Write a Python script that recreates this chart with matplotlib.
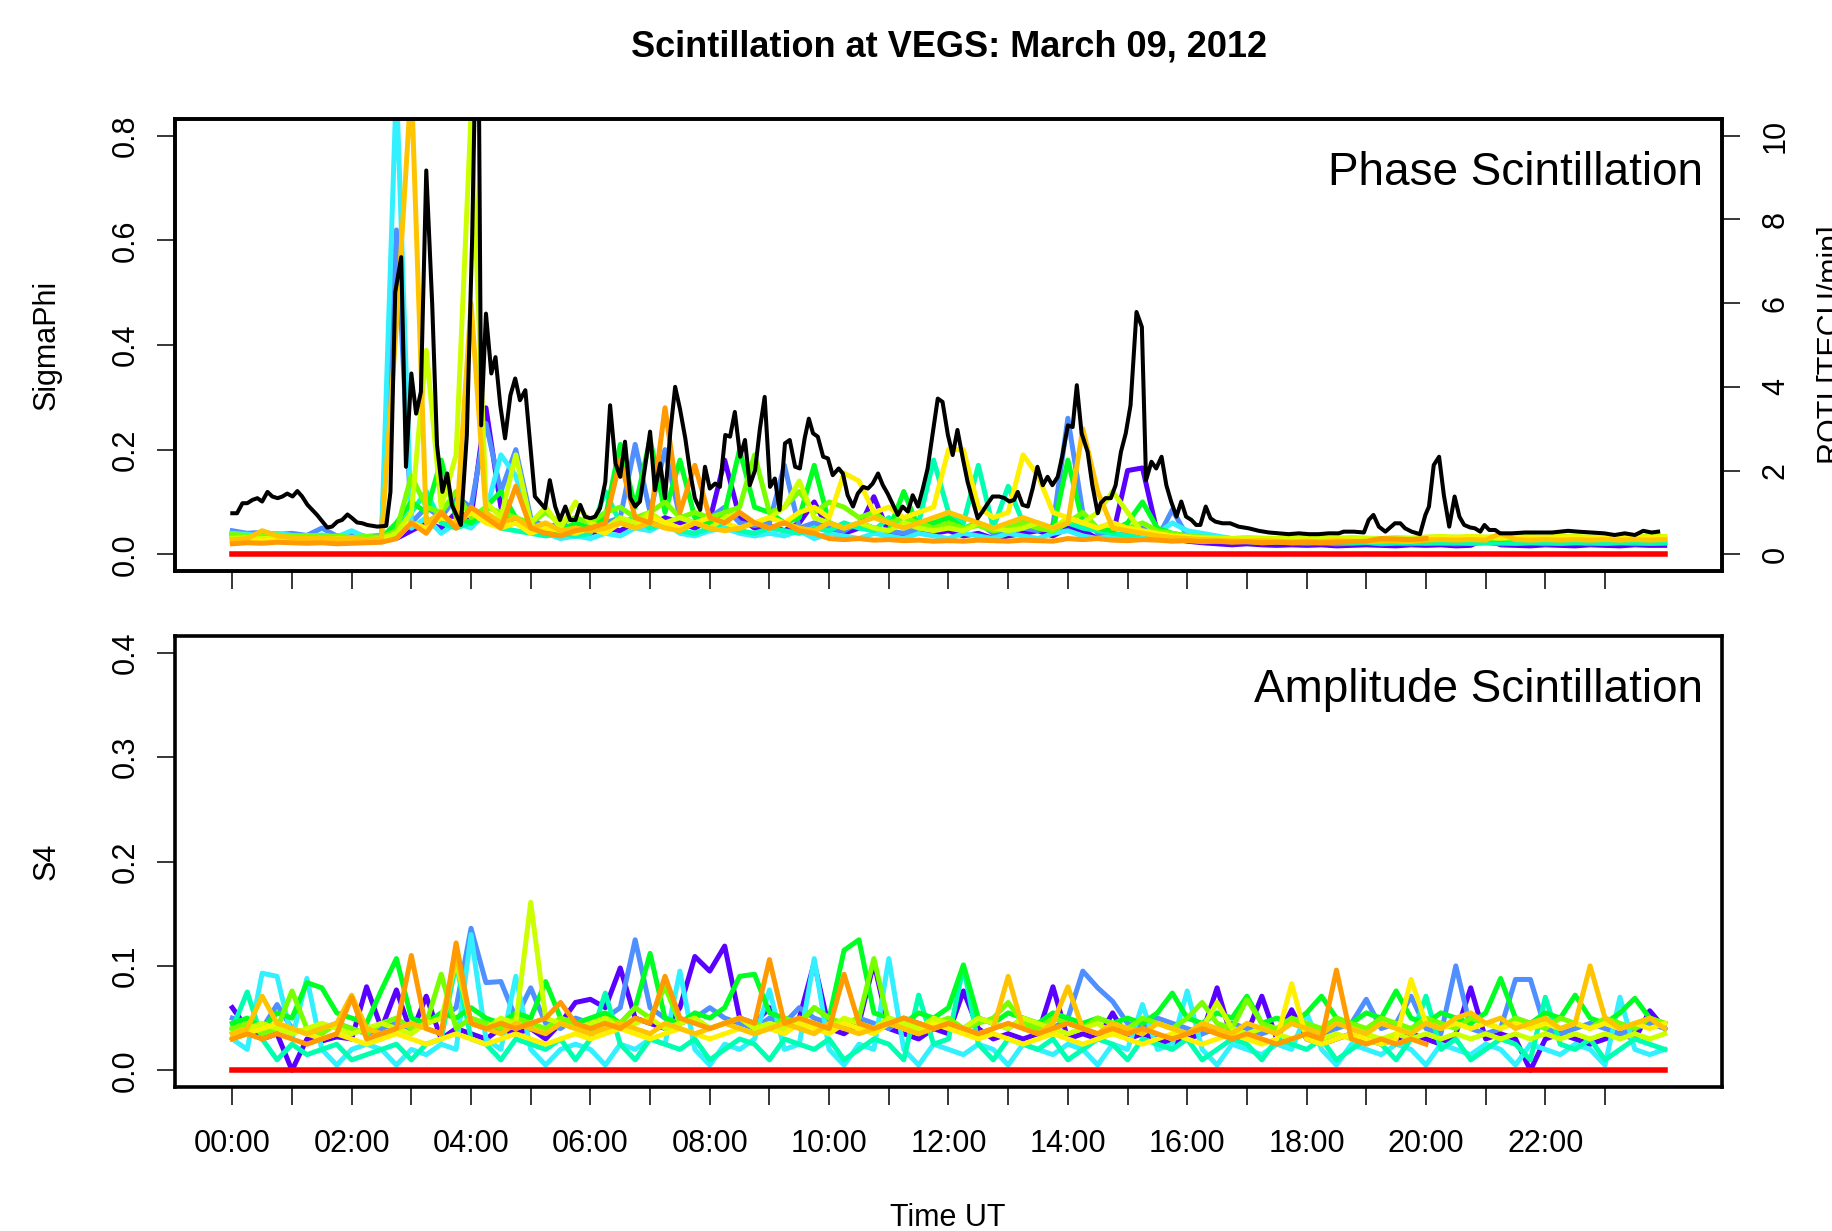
import numpy as np
import matplotlib
matplotlib.use("Agg")
import matplotlib.pyplot as plt

plt.rcParams["font.family"] = ["Liberation Sans", "DejaVu Sans"]

# 15-minute samples over the day (hours UT)
hours = np.linspace(0, 24, 97)
nan = np.nan

sat_colors = ["#5A00FF", "#4F8FFF", "#33F0FF", "#00FFB0", "#00FF22",
              "#77FF00", "#CCFF00", "#FFF000", "#FFC400", "#FF9A00"]

# ---- SigmaPhi per satellite ----
phi_purple = [0.040, 0.035, 0.038, 0.033, 0.036, 0.032, 0.034, 0.030, 0.033, 0.031, 0.034, 0.030,
              0.045, 0.060, 0.050, 0.080, 0.070, 0.280, 0.090, 0.060, 0.050, 0.040, 0.045, 0.035,
              0.040, 0.050, 0.045, 0.060, 0.055, 0.070, 0.060, 0.050, 0.065, 0.180, 0.070, 0.050,
              0.055, 0.045, 0.060, 0.100, 0.045, 0.040, 0.050, 0.110, 0.040, 0.035, 0.045, 0.040,
              0.045, 0.035, 0.040, 0.030, 0.035, 0.040, 0.045, 0.035, 0.050, 0.045, 0.030, 0.035,
              0.160, 0.165, 0.040, 0.030, 0.025, 0.022, 0.020, 0.018, 0.020, 0.018, 0.017, 0.018,
              0.017, 0.018, 0.016, 0.017, 0.018, 0.017, 0.016, 0.018, 0.017, 0.018, 0.016, 0.017,
              0.030, 0.018, 0.017, 0.016, 0.018, 0.017, 0.016, 0.018, 0.017, 0.016, 0.018, 0.017,
              0.017]
phi_blue = [0.045, 0.040, 0.042, 0.038, 0.040, 0.036, 0.050, 0.035, 0.038, 0.034, 0.036, 0.620,
            0.060, 0.090, 0.070, 0.110, 0.090, 0.250, 0.120, 0.200, 0.070, 0.050, 0.060, 0.045,
            0.050, 0.060, 0.070, 0.210, 0.080, 0.200, 0.070, 0.060, 0.070, 0.090, 0.060, 0.055,
            0.060, 0.170, 0.050, 0.060, 0.050, 0.045, 0.060, 0.050, 0.045, 0.040, 0.050, 0.060,
            0.050, 0.045, 0.060, 0.040, 0.045, 0.050, 0.045, 0.055, 0.260, 0.080, 0.040, 0.035,
            0.040, 0.050, 0.030, 0.085, 0.035, 0.030, 0.028, 0.025, 0.024, 0.022, 0.023, 0.022,
            0.021, 0.022, 0.020, 0.021, 0.022, 0.020, 0.021, 0.020, 0.022, 0.021, 0.020, 0.021,
            0.022, 0.020, 0.021, 0.022, 0.020, 0.021, 0.022, 0.020, 0.021, 0.022, 0.020, 0.021,
            0.021]
phi_cyan = [0.040, 0.038, 0.035, 0.040, 0.036, 0.034, 0.037, 0.033, 0.045, 0.032, 0.030, 0.900,
            0.050, 0.070, 0.040, 0.060, 0.050, 0.080, 0.190, 0.150, 0.050, 0.040, 0.030, 0.035,
            0.030, 0.040, 0.035, 0.050, 0.045, 0.060, 0.040, 0.035, 0.045, 0.050, 0.040, 0.035,
            0.040, 0.035, 0.045, 0.030, 0.040, 0.035, 0.030, 0.040, 0.035, 0.030, 0.040, 0.035,
            0.030, 0.040, 0.035, 0.030, 0.040, 0.035, 0.030, 0.040, 0.045, 0.035, 0.030, 0.035,
            0.030, 0.035, 0.040, 0.060, 0.045, 0.040, 0.035, 0.030, 0.028, 0.030, 0.027, 0.025,
            0.026, 0.025, 0.024, 0.026, 0.025, 0.024, 0.025, 0.026, 0.024, 0.025, 0.023, 0.024,
            0.025, 0.023, 0.024, 0.025, 0.024, 0.023, 0.024, 0.025, 0.023, 0.024, 0.025, 0.024,
            0.024]
phi_aqua = [0.030, 0.032, 0.028, 0.030, 0.027, 0.029, 0.026, 0.028, 0.025, 0.027, 0.026, 0.050,
            0.080, 0.120, 0.060, 0.050, 0.060, 0.070, 0.050, 0.045, 0.040, 0.035, 0.040, 0.035,
            0.040, 0.120, 0.060, 0.070, 0.050, 0.060, 0.045, 0.040, 0.050, 0.060, 0.045, 0.040,
            0.050, 0.045, 0.040, 0.050, 0.045, 0.060, 0.050, 0.045, 0.070, 0.050, 0.060, 0.180,
            0.080, 0.060, 0.170, 0.050, 0.130, 0.060, 0.050, 0.045, 0.060, 0.050, 0.045, 0.040,
            0.035, 0.040, 0.030, 0.035, 0.028, 0.026, 0.025, 0.024, 0.025, 0.023, 0.024, 0.022,
            0.023, 0.022, 0.024, 0.022, 0.023, 0.021, 0.022, 0.023, 0.021, 0.022, 0.023, 0.021,
            0.022, 0.023, 0.021, 0.022, 0.023, 0.021, 0.022, 0.023, 0.021, 0.022, 0.023, 0.021,
            0.022]
phi_green = [0.035, 0.033, 0.036, 0.032, 0.034, 0.031, 0.033, 0.030, 0.032, 0.030, 0.031, 0.060,
             0.100, 0.080, 0.180, 0.070, 0.060, 0.090, 0.120, 0.070, 0.050, 0.040, 0.045, 0.060,
             0.050, 0.070, 0.210, 0.090, 0.220, 0.080, 0.180, 0.070, 0.060, 0.080, 0.200, 0.090,
             0.080, 0.060, 0.070, 0.170, 0.060, 0.050, 0.060, 0.050, 0.045, 0.120, 0.050, 0.060,
             0.070, 0.050, 0.060, 0.045, 0.050, 0.060, 0.050, 0.045, 0.180, 0.060, 0.050, 0.045,
             0.060, 0.100, 0.050, 0.040, 0.035, 0.030, 0.028, 0.030, 0.028, 0.027, 0.029, 0.027,
             0.028, 0.027, 0.029, 0.028, 0.027, 0.029, 0.030, 0.028, 0.027, 0.029, 0.028, 0.030,
             0.029, 0.028, 0.030, 0.029, 0.028, 0.031, 0.029, 0.028, 0.030, 0.029, 0.028, 0.030,
             0.029]
phi_chart = [0.038, 0.036, 0.035, 0.037, 0.034, 0.036, 0.033, 0.035, 0.032, 0.034, 0.033, 0.045,
             0.150, 0.090, 0.080, 0.120, 0.070, 0.090, 0.080, 0.070, 0.060, 0.080, 0.060, 0.070,
             0.060, 0.080, 0.090, 0.070, 0.080, 0.100, 0.070, 0.080, 0.070, 0.080, 0.090, 0.190,
             0.080, 0.090, 0.120, 0.080, 0.100, 0.090, 0.070, 0.080, 0.060, 0.070, 0.060, 0.050,
             0.060, 0.050, 0.055, 0.045, 0.050, 0.060, 0.050, 0.045, 0.060, 0.080, 0.050, 0.060,
             0.050, 0.060, 0.045, 0.040, 0.035, 0.033, 0.032, 0.030, 0.031, 0.030, 0.029, 0.030,
             0.030, 0.029, 0.031, 0.030, 0.029, 0.030, 0.031, 0.029, 0.030, 0.031, 0.029, 0.030,
             0.032, 0.030, 0.031, 0.030, 0.032, 0.031, 0.030, 0.032, 0.031, 0.030, 0.031, 0.032,
             0.031]
phi_ygreen = [0.030, 0.032, 0.030, 0.031, 0.029, 0.030, 0.028, 0.030, 0.029, 0.028, 0.030, 0.040,
              0.080, 0.390, 0.090, 0.190, 0.840, 0.100, 0.070, 0.190, 0.060, 0.090, 0.050, 0.100,
              0.060, 0.050, 0.070, 0.060, 0.080, 0.060, 0.070, 0.060, 0.050, 0.070, 0.080, 0.060,
              0.070, 0.090, 0.140, 0.070, 0.060, 0.050, 0.060, 0.050, 0.045, 0.060, 0.050, 0.045,
              0.050, 0.045, 0.060, 0.050, 0.045, 0.050, 0.060, 0.050, 0.070, 0.060, 0.080, 0.120,
              0.080, 0.040, 0.038, 0.035, 0.033, 0.032, 0.031, 0.030, 0.032, 0.031, 0.030, 0.031,
              0.032, 0.031, 0.030, 0.032, 0.031, 0.030, 0.032, 0.031, 0.033, 0.034, 0.033, 0.034,
              0.033, 0.034, 0.035, 0.034, 0.033, 0.035, 0.034, 0.033, 0.035, 0.034, 0.033, 0.035,
              0.034]
phi_yellow = [0.025, 0.027, 0.026, 0.028, 0.025, 0.027, 0.026, 0.025, 0.027, 0.026, 0.025, 0.030,
              0.060, 0.050, 0.070, 0.060, 0.080, 0.060, 0.050, 0.060, 0.040, 0.050, 0.045, 0.040,
              0.050, 0.040, 0.060, 0.050, 0.070, 0.060, 0.050, 0.060, 0.070, 0.060, 0.050, 0.060,
              0.070, 0.060, 0.080, 0.090, 0.070, 0.155, 0.140, 0.080, 0.090, 0.070, 0.080, 0.090,
              0.200, 0.200, 0.090, 0.070, 0.080, 0.190, 0.150, 0.080, 0.070, 0.060, 0.050, 0.060,
              0.050, 0.045, 0.040, 0.035, 0.033, 0.030, 0.028, 0.027, 0.026, 0.027, 0.026, 0.025,
              0.026, 0.025, 0.027, 0.026, 0.025, 0.027, 0.026, 0.025, 0.030, 0.032, 0.031, 0.033,
              0.032, 0.031, 0.033, 0.032, 0.031, 0.033, 0.032, 0.031, 0.033, 0.032, 0.031, 0.032,
              0.032]
phi_gold = [0.028, 0.030, 0.045, 0.035, 0.032, 0.030, 0.031, 0.029, 0.030, 0.028, 0.029, 0.440,
            0.900, 0.060, 0.080, 0.050, 0.480, 0.080, 0.060, 0.070, 0.050, 0.060, 0.045, 0.050,
            0.045, 0.050, 0.060, 0.050, 0.060, 0.050, 0.045, 0.060, 0.050, 0.045, 0.050, 0.060,
            0.050, 0.060, 0.050, 0.045, 0.060, 0.050, 0.060, 0.070, 0.060, 0.050, 0.060, 0.070,
            0.080, 0.070, 0.060, 0.050, 0.060, 0.070, 0.060, 0.050, 0.060, 0.240, 0.120, 0.050,
            0.045, 0.040, 0.035, 0.032, 0.030, 0.028, 0.027, 0.026, 0.025, 0.026, 0.025, 0.024,
            0.025, 0.024, 0.026, 0.025, 0.024, 0.025, 0.026, 0.025, 0.027, 0.028, 0.027, 0.028,
            0.027, 0.040, 0.028, 0.027, 0.028, 0.027, 0.028, 0.027, 0.028, 0.027, 0.028, 0.027,
            0.028]
phi_orange = [0.020, 0.022, 0.021, 0.023, 0.022, 0.021, 0.022, 0.020, 0.021, 0.022, 0.023, 0.030,
              0.060, 0.040, 0.080, 0.050, 0.090, 0.070, 0.050, 0.130, 0.050, 0.040, 0.035, 0.045,
              0.050, 0.060, 0.180, 0.070, 0.060, 0.280, 0.080, 0.170, 0.070, 0.060, 0.080, 0.060,
              0.050, 0.060, 0.045, 0.040, 0.030, 0.028, 0.030, 0.027, 0.028, 0.026, 0.027, 0.025,
              0.026, 0.025, 0.027, 0.026, 0.025, 0.027, 0.026, 0.025, 0.030, 0.028, 0.030, 0.027,
              0.026, 0.028, 0.027, 0.025, 0.026, 0.024, 0.025, 0.023, 0.024, 0.022, 0.023, 0.022,
              0.023, 0.022, 0.023, 0.024, 0.025, 0.030, 0.029, 0.028, 0.030, nan, nan, nan,
              nan, nan, nan, nan, nan, nan, nan, nan, nan, nan, nan, nan,
              nan]
phi_red = [0.0] * 97

# ---- ROTI (black line, right axis) ----
roti_t = [0.00, 0.08, 0.17, 0.25, 0.34, 0.42, 0.50, 0.59, 0.67, 0.76, 0.84, 0.92, 1.01, 1.09, 1.17,
          1.26, 1.42, 1.59, 1.67, 1.76, 1.84, 1.93, 2.01, 2.09, 2.18, 2.26, 2.43, 2.58, 2.65, 2.73,
          2.83, 2.91, 3.00, 3.08, 3.16, 3.25, 3.35, 3.43, 3.52, 3.60, 3.68, 3.83, 3.93, 4.02, 4.07,
          4.13, 4.17, 4.25, 4.34, 4.41, 4.49, 4.57, 4.66, 4.74, 4.82, 4.91, 5.07, 5.24, 5.32, 5.41,
          5.49, 5.58, 5.66, 5.75, 5.83, 5.91, 6.00, 6.08, 6.16, 6.25, 6.33, 6.42, 6.50, 6.58, 6.67,
          6.75, 6.83, 6.92, 7.00, 7.08, 7.17, 7.25, 7.34, 7.42, 7.50, 7.59, 7.67, 7.75, 7.84, 7.92,
          8.00, 8.09, 8.17, 8.26, 8.34, 8.42, 8.51, 8.59, 8.67, 8.76, 8.84, 8.92, 9.01, 9.09, 9.17,
          9.26, 9.34, 9.43, 9.51, 9.59, 9.66, 9.73, 9.81, 9.90, 9.98, 10.06, 10.16, 10.23, 10.31,
          10.40, 10.48, 10.57, 10.65, 10.73, 10.82, 10.90, 10.98, 11.07, 11.15, 11.23, 11.32, 11.40,
          11.49, 11.57, 11.65, 11.74, 11.82, 11.90, 11.99, 12.07, 12.15, 12.24, 12.32, 12.41, 12.49,
          12.57, 12.66, 12.74, 12.85, 12.94, 13.02, 13.10, 13.16, 13.24, 13.33, 13.41, 13.49, 13.58,
          13.66, 13.74, 13.83, 13.91, 14.00, 14.08, 14.15, 14.23, 14.33, 14.41, 14.50, 14.55, 14.63,
          14.72, 14.80, 14.89, 14.97, 15.05, 15.15, 15.24, 15.31, 15.40, 15.48, 15.57, 15.65, 15.73,
          15.82, 15.90, 15.98, 16.07, 16.15, 16.22, 16.31, 16.39, 16.47, 16.59, 16.72, 16.86, 17.03,
          17.20, 17.37, 17.53, 17.70, 17.87, 18.04, 18.20, 18.37, 18.54, 18.62, 18.79, 18.96, 19.04,
          19.12, 19.21, 19.32, 19.48, 19.57, 19.65, 19.76, 19.90, 19.99, 20.05, 20.13, 20.22, 20.30,
          20.39, 20.48, 20.56, 20.64, 20.74, 20.82, 20.91, 20.98, 21.06, 21.16, 21.24, 21.44, 21.66,
          21.88, 22.11, 22.24, 22.38, 22.55, 22.77, 22.99, 23.16, 23.33, 23.50, 23.64, 23.78, 23.89]
roti_v = [0.98, 0.98, 1.22, 1.22, 1.30, 1.34, 1.26, 1.49, 1.38, 1.34, 1.38, 1.45, 1.38, 1.51, 1.38,
          1.18, 0.94, 0.64, 0.66, 0.78, 0.82, 0.95, 0.86, 0.76, 0.74, 0.70, 0.66, 0.68, 1.49, 6.26,
          7.10, 2.09, 4.32, 3.36, 3.88, 9.17, 5.95, 2.61, 1.49, 1.93, 1.18, 0.70, 2.85, 7.62, 11.5,
          11.5, 3.08, 5.75, 4.32, 4.71, 3.56, 2.77, 3.80, 4.20, 3.68, 3.92, 1.38, 1.10, 1.77, 1.14,
          0.82, 1.14, 0.82, 0.82, 1.18, 0.90, 0.86, 0.90, 1.10, 1.73, 3.56, 2.17, 1.85, 2.69, 1.34,
          1.14, 1.26, 2.13, 2.93, 1.53, 2.17, 1.34, 2.93, 4.00, 3.48, 2.77, 1.97, 1.34, 1.06, 2.09,
          1.57, 1.69, 1.61, 2.85, 2.81, 3.40, 2.33, 2.73, 1.65, 2.01, 3.00, 3.76, 1.61, 1.81, 1.06,
          2.65, 2.73, 2.09, 2.05, 2.77, 3.24, 2.89, 2.81, 2.33, 2.29, 1.89, 2.05, 1.93, 1.41,
          1.14, 1.45, 1.61, 1.57, 1.69, 1.93, 1.65, 1.45, 1.18, 0.94, 1.14, 1.02, 1.41,
          1.14, 1.57, 2.05, 2.93, 3.72, 3.64, 2.85, 2.37, 2.97, 2.29, 1.73, 1.26, 0.86,
          1.02, 1.22, 1.38, 1.38, 1.34, 1.26, 1.30, 1.49, 1.18, 1.14, 1.57, 2.09, 1.65,
          1.85, 1.65, 1.85, 2.37, 3.08, 3.04, 4.04, 2.89, 2.45, 1.65, 0.98, 1.22, 1.34,
          1.34, 1.65, 2.45, 2.89, 3.56, 5.79, 5.43, 1.77, 2.21, 2.05, 2.33, 1.65, 1.26,
          0.90, 1.26, 0.90, 0.82, 0.70, 0.70, 1.14, 0.86, 0.78, 0.74, 0.74, 0.66, 0.62,
          0.56, 0.52, 0.50, 0.48, 0.50, 0.48, 0.48, 0.50, 0.50, 0.54, 0.54, 0.52, 0.82,
          0.94, 0.66, 0.54, 0.74, 0.74, 0.62, 0.54, 0.48, 0.94, 1.14, 2.13, 2.33, 1.41,
          0.66, 1.38, 0.90, 0.70, 0.64, 0.62, 0.54, 0.70, 0.58, 0.58, 0.50, 0.50, 0.52,
          0.52, 0.52, 0.54, 0.56, 0.54, 0.52, 0.50, 0.46, 0.50, 0.46, 0.56, 0.52, 0.54]

# ---- S4 per satellite ----
s4_purple = [0.060, 0.040, 0.030, 0.035, 0.000, 0.030, 0.028, 0.032, 0.030, 0.080, 0.040, 0.077,
             0.035, 0.071, 0.030, 0.040, 0.035, 0.030, 0.040, 0.035, 0.040, 0.030, 0.045, 0.065,
             0.068, 0.060, 0.098, 0.050, 0.045, 0.040, 0.060, 0.109, 0.095, 0.119, 0.050, 0.045,
             0.060, 0.040, 0.050, 0.103, 0.040, 0.035, 0.045, 0.103, 0.040, 0.035, 0.030, 0.040,
             0.035, 0.076, 0.040, 0.030, 0.035, 0.030, 0.035, 0.080, 0.030, 0.035, 0.030, 0.055,
             0.030, 0.035, 0.030, 0.025, 0.030, 0.035, 0.079, 0.030, 0.035, 0.071, 0.030, 0.058,
             0.030, 0.025, 0.030, 0.035, 0.030, 0.025, 0.030, 0.035, 0.030, 0.025, 0.035, 0.079,
             0.030, 0.035, 0.030, 0.000, 0.030, 0.035, 0.030, 0.025, 0.030, 0.035, 0.030, 0.057,
             0.040]
s4_blue = [0.050, 0.045, 0.040, 0.063, 0.040, 0.035, 0.040, 0.045, 0.040, 0.035, 0.040, 0.045,
           0.040, 0.045, 0.050, 0.060, 0.136, 0.084, 0.085, 0.050, 0.079, 0.045, 0.040, 0.050,
           0.045, 0.050, 0.060, 0.125, 0.060, 0.050, 0.045, 0.050, 0.060, 0.050, 0.045, 0.040,
           0.050, 0.045, 0.060, 0.050, 0.045, 0.040, 0.050, 0.045, 0.040, 0.050, 0.045, 0.040,
           0.045, 0.040, 0.050, 0.045, 0.040, 0.050, 0.045, 0.040, 0.050, 0.095, 0.079, 0.066,
           0.045, 0.040, 0.050, 0.045, 0.040, 0.035, 0.040, 0.045, 0.040, 0.035, 0.040, 0.045,
           0.040, 0.035, 0.040, 0.045, 0.068, 0.040, 0.045, 0.071, 0.040, 0.035, 0.100, 0.040,
           0.035, 0.040, 0.087, 0.087, 0.040, 0.035, 0.040, 0.045, 0.040, 0.035, 0.040, 0.045,
           0.040]
s4_cyan = [0.030, 0.020, 0.093, 0.090, 0.030, 0.088, 0.020, 0.005, 0.020, 0.025, 0.020, 0.005,
           0.020, 0.015, 0.025, 0.020, 0.130, 0.030, 0.020, 0.090, 0.020, 0.005, 0.020, 0.025,
           0.020, 0.005, 0.025, 0.020, 0.030, 0.025, 0.095, 0.020, 0.005, 0.025, 0.020, 0.030,
           0.077, 0.020, 0.025, 0.107, 0.020, 0.005, 0.025, 0.020, 0.107, 0.020, 0.005, 0.025,
           0.020, 0.015, 0.025, 0.020, 0.005, 0.025, 0.020, 0.015, 0.025, 0.020, 0.005, 0.025,
           0.020, 0.063, 0.020, 0.025, 0.076, 0.020, 0.005, 0.025, 0.020, 0.015, 0.025, 0.020,
           0.055, 0.020, 0.005, 0.025, 0.020, 0.015, 0.025, 0.020, 0.005, 0.025, 0.020, 0.015,
           0.025, 0.020, 0.005, 0.025, 0.020, 0.015, 0.025, 0.020, 0.005, 0.070, 0.020, 0.015,
           0.020]
s4_aqua = [0.040, 0.075, 0.030, 0.010, 0.025, 0.015, 0.020, 0.025, 0.010, 0.015, 0.020, 0.025,
           0.010, 0.025, 0.030, 0.103, 0.030, 0.025, 0.010, 0.030, 0.025, 0.020, 0.030, 0.010,
           0.030, 0.074, 0.025, 0.010, 0.030, 0.025, 0.020, 0.030, 0.010, 0.020, 0.030, 0.025,
           0.010, 0.030, 0.025, 0.020, 0.030, 0.010, 0.020, 0.030, 0.025, 0.010, 0.072, 0.025,
           0.030, 0.100, 0.025, 0.010, 0.030, 0.025, 0.020, 0.030, 0.010, 0.020, 0.030, 0.025,
           0.010, 0.030, 0.025, 0.020, 0.030, 0.010, 0.020, 0.030, 0.025, 0.010, 0.030, 0.025,
           0.020, 0.030, 0.010, 0.020, 0.030, 0.025, 0.010, 0.030, 0.071, 0.020, 0.030, 0.010,
           0.020, 0.030, 0.025, 0.010, 0.070, 0.025, 0.020, 0.030, 0.010, 0.020, 0.030, 0.025,
           0.020]
s4_green = [0.045, 0.050, 0.040, 0.055, 0.050, 0.084, 0.079, 0.055, 0.050, 0.045, 0.077, 0.107,
            0.050, 0.045, 0.055, 0.050, 0.060, 0.050, 0.045, 0.055, 0.050, 0.085, 0.050, 0.045,
            0.050, 0.055, 0.045, 0.060, 0.112, 0.050, 0.045, 0.055, 0.050, 0.060, 0.090, 0.092,
            0.055, 0.050, 0.045, 0.060, 0.050, 0.115, 0.125, 0.055, 0.050, 0.045, 0.055, 0.050,
            0.060, 0.101, 0.050, 0.045, 0.055, 0.050, 0.045, 0.055, 0.050, 0.045, 0.050, 0.045,
            0.050, 0.045, 0.055, 0.074, 0.050, 0.045, 0.055, 0.050, 0.071, 0.045, 0.050, 0.045,
            0.055, 0.071, 0.050, 0.045, 0.055, 0.050, 0.076, 0.050, 0.045, 0.055, 0.050, 0.045,
            0.055, 0.088, 0.050, 0.045, 0.055, 0.050, 0.072, 0.050, 0.045, 0.055, 0.069, 0.050,
            0.045]
s4_chart = [0.040, 0.045, 0.035, 0.040, 0.076, 0.040, 0.035, 0.045, 0.040, 0.035, 0.045, 0.050,
            0.040, 0.045, 0.092, 0.040, 0.050, 0.045, 0.040, 0.050, 0.045, 0.040, 0.050, 0.045,
            0.040, 0.050, 0.045, 0.060, 0.050, 0.080, 0.045, 0.050, 0.040, 0.045, 0.050, 0.045,
            0.040, 0.050, 0.045, 0.060, 0.050, 0.045, 0.050, 0.107, 0.045, 0.050, 0.040, 0.045,
            0.050, 0.040, 0.045, 0.050, 0.065, 0.045, 0.040, 0.050, 0.045, 0.040, 0.050, 0.045,
            0.040, 0.050, 0.045, 0.040, 0.050, 0.065, 0.045, 0.040, 0.068, 0.045, 0.040, 0.050,
            0.045, 0.040, 0.050, 0.045, 0.040, 0.050, 0.045, 0.040, 0.050, 0.045, 0.040, 0.050,
            0.045, 0.040, 0.050, 0.045, 0.040, 0.050, 0.045, 0.040, 0.050, 0.045, 0.040, 0.050,
            0.045]
s4_ygreen = [0.035, 0.040, 0.045, 0.040, 0.035, 0.040, 0.045, 0.040, 0.035, 0.040, 0.045, 0.040,
             0.035, 0.045, 0.050, 0.104, 0.045, 0.040, 0.050, 0.045, 0.161, 0.050, 0.045, 0.040,
             0.045, 0.050, 0.040, 0.045, 0.050, 0.040, 0.045, 0.050, 0.040, 0.045, 0.050, 0.040,
             0.045, 0.040, 0.050, 0.045, 0.040, 0.050, 0.045, 0.040, 0.050, 0.045, 0.040, 0.050,
             0.045, 0.040, 0.050, 0.045, 0.040, 0.050, 0.045, 0.040, 0.035, 0.040, 0.045, 0.035,
             0.040, 0.035, 0.045, 0.040, 0.035, 0.040, 0.065, 0.040, 0.035, 0.040, 0.035, 0.030,
             0.035, 0.030, 0.035, 0.030, 0.035, 0.030, 0.035, 0.030, 0.035, 0.030, 0.035, 0.030,
             0.035, 0.030, 0.035, 0.030, 0.035, 0.030, 0.035, 0.030, 0.035, 0.030, 0.035, 0.030,
             0.035]
s4_yellow = [0.030, 0.035, 0.040, 0.045, 0.040, 0.035, 0.030, 0.035, 0.030, 0.025, 0.030, 0.035,
             0.030, 0.025, 0.030, 0.035, 0.030, 0.025, 0.030, 0.035, 0.030, 0.025, 0.030, 0.035,
             0.030, 0.035, 0.040, 0.035, 0.030, 0.035, 0.040, 0.035, 0.030, 0.035, 0.040, 0.035,
             0.040, 0.035, 0.045, 0.040, 0.035, 0.045, 0.040, 0.035, 0.045, 0.040, 0.035, 0.045,
             0.040, 0.035, 0.030, 0.035, 0.030, 0.025, 0.030, 0.035, 0.030, 0.025, 0.030, 0.035,
             0.030, 0.025, 0.030, 0.035, 0.030, 0.025, 0.030, 0.035, 0.030, 0.025, 0.030, 0.083,
             0.030, 0.025, 0.030, 0.035, 0.030, 0.025, 0.030, 0.087, 0.045, 0.040, 0.045, 0.040,
             0.045, 0.040, 0.045, 0.040, 0.045, 0.040, 0.045, 0.040, 0.045, 0.040, 0.045, 0.040,
             0.045]
s4_gold = [0.035, 0.040, 0.071, 0.045, 0.040, 0.035, 0.040, 0.045, 0.072, 0.040, 0.035, 0.040,
           0.045, 0.040, 0.035, 0.112, 0.045, 0.040, 0.035, 0.045, 0.040, 0.035, 0.045, 0.040,
           0.035, 0.040, 0.045, 0.040, 0.035, 0.045, 0.040, 0.035, 0.040, 0.045, 0.040, 0.035,
           0.040, 0.045, 0.040, 0.035, 0.045, 0.040, 0.035, 0.040, 0.045, 0.040, 0.035, 0.040,
           0.045, 0.040, 0.035, 0.040, 0.090, 0.040, 0.035, 0.045, 0.080, 0.040, 0.035, 0.045,
           0.040, 0.035, 0.045, 0.040, 0.035, 0.045, 0.040, 0.035, 0.045, 0.040, 0.035, 0.045,
           0.040, 0.035, 0.045, 0.040, 0.035, 0.045, 0.040, 0.035, 0.045, 0.040, 0.050, 0.055,
           0.045, 0.050, 0.040, 0.045, 0.050, 0.040, 0.045, 0.100, 0.050, 0.040, 0.045, 0.050,
           0.040]
s4_orange = [0.030, 0.035, 0.030, 0.035, 0.030, 0.025, 0.030, 0.035, 0.070, 0.030, 0.035, 0.040,
             0.110, 0.040, 0.035, 0.122, 0.045, 0.040, 0.045, 0.040, 0.045, 0.050, 0.065, 0.045,
             0.040, 0.045, 0.040, 0.050, 0.045, 0.090, 0.050, 0.045, 0.040, 0.045, 0.050, 0.045,
             0.106, 0.045, 0.050, 0.045, 0.040, 0.092, 0.045, 0.040, 0.045, 0.050, 0.045, 0.040,
             0.045, 0.040, 0.035, 0.040, 0.045, 0.040, 0.035, 0.040, 0.045, 0.040, 0.035, 0.040,
             0.035, 0.040, 0.035, 0.030, 0.035, 0.040, 0.035, 0.030, 0.035, 0.030, 0.025, 0.030,
             0.035, 0.030, 0.096, 0.030, 0.025, 0.030, 0.025, 0.030, 0.025, nan, nan, nan,
             nan, nan, nan, nan, nan, nan, nan, nan, nan, nan, nan, nan,
             nan]
s4_red = [0.0] * 97

phi_series = [phi_purple, phi_blue, phi_cyan, phi_aqua, phi_green,
              phi_chart, phi_ygreen, phi_yellow, phi_gold, phi_orange]
s4_series = [s4_purple, s4_blue, s4_cyan, s4_aqua, s4_green,
             s4_chart, s4_ygreen, s4_yellow, s4_gold, s4_orange]

tick_hours = list(range(24))
tick_labels = ["%02d:00" % h if h % 2 == 0 else "" for h in tick_hours]

W, H = 1833, 1231
fig = plt.figure(figsize=(W / 100, H / 100), dpi=100)
ax_phi = fig.add_axes([175 / W, 1 - 571 / H, 1547 / W, 452 / H])
ax_s4 = fig.add_axes([175 / W, 1 - 1087 / H, 1547 / W, 451 / H])

for vals, col in zip(phi_series, sat_colors):
    ax_phi.plot(hours, vals, color=col, lw=3.6)
ax_phi.plot(hours, phi_red, color="#FF0000", lw=4)

for vals, col in zip(s4_series, sat_colors):
    ax_s4.plot(hours, vals, color=col, lw=3.6)
ax_s4.plot(hours, s4_red, color="#FF0000", lw=4)

ax_roti = ax_phi.twinx()
ax_roti.plot(roti_t, roti_v, color="black", lw=2.9)

# R-like ranges (4% padding)
ax_phi.set_xlim(-0.96, 24.96)
ax_s4.set_xlim(-0.96, 24.96)
ax_phi.set_ylim(-0.032, 0.832)
ax_roti.set_ylim(-0.4, 10.4)
ax_s4.set_ylim(-0.016, 0.416)

for ax in (ax_phi, ax_s4, ax_roti):
    for sp in ax.spines.values():
        sp.set_linewidth(2.6)
    ax.tick_params(direction="out", length=13, width=1.1, labelsize=22, pad=12)

ax_phi.set_xticks(tick_hours)
ax_phi.set_xticklabels([])
ax_s4.set_xticks(tick_hours)
ax_s4.set_xticklabels(tick_labels)
ax_s4.tick_params(axis="x", pad=17)
ax_roti.tick_params(axis="y", pad=15)

ax_phi.set_yticks([0.0, 0.2, 0.4, 0.6, 0.8])
ax_phi.set_yticklabels(["0.0", "0.2", "0.4", "0.6", "0.8"], rotation=90, va="center")
ax_s4.set_yticks([0.0, 0.1, 0.2, 0.3, 0.4])
ax_s4.set_yticklabels(["0.0", "0.1", "0.2", "0.3", "0.4"], rotation=90, va="center")
ax_roti.set_yticks([0, 2, 4, 6, 8, 10])
ax_roti.set_yticklabels(["0", "2", "4", "6", "8", "10"], rotation=90, va="center")

ax_phi.text(0.988, 0.88, "Phase Scintillation", transform=ax_phi.transAxes,
            ha="right", va="center", fontsize=33, zorder=5)
ax_s4.text(0.988, 0.88, "Amplitude Scintillation", transform=ax_s4.transAxes,
           ha="right", va="center", fontsize=33)

fig.text(0.5175, 1 - 47 / H, "Scintillation at VEGS: March 09, 2012",
         ha="center", va="center", fontsize=26, fontweight="bold")
fig.text(47 / W, 1 - 345 / H, "SigmaPhi", rotation=90, ha="center", va="center", fontsize=22)
fig.text(47 / W, 1 - 861 / H, "S4", rotation=90, ha="center", va="center", fontsize=22)
fig.text(1832 / W, 1 - 345 / H, "ROTI [TECU/min]", rotation=90, ha="center", va="center", fontsize=22)
fig.text(948 / W, 1 - 1218 / H, "Time UT", ha="center", va="center", fontsize=22)

fig.savefig("out.png", dpi=100)
